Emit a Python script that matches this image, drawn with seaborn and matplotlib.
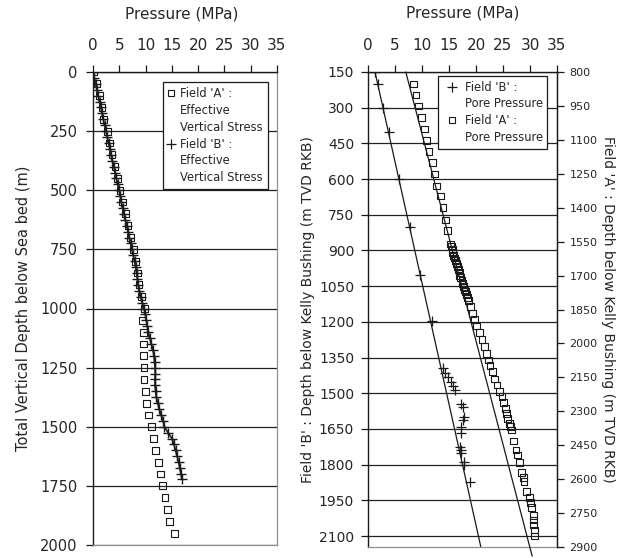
import matplotlib
matplotlib.use('Agg')
import matplotlib.pyplot as plt
from matplotlib.lines import Line2D
import seaborn as sns

# ---- left panel: effective vertical stress (depth below sea bed, m / MPa)
a_eff_depth = [0, 50, 100, 150, 200, 250, 300, 350, 400, 450, 500, 550, 600, 650,
               700, 750, 800, 850, 900, 950, 1000, 1050, 1100, 1150, 1200, 1250,
               1300, 1350, 1400, 1450, 1500, 1550, 1600, 1650, 1700, 1750, 1800,
               1850, 1900, 1950]
a_eff_mpa = [0.2, 0.75, 1.25, 1.7, 2.05, 2.7, 3.15, 3.6, 4.2, 4.7, 5.15, 5.6, 6.2, 6.65,
             7.1, 7.65, 8.15, 8.4, 8.75, 9.2, 9.75, 9.4, 9.55, 9.55, 9.55, 9.7,
             9.7, 10.0, 10.25, 10.6, 11.1, 11.45, 11.85, 12.5, 12.85, 13.25, 13.7,
             14.15, 14.6, 15.5]

b_eff_depth = [0, 25, 50, 75, 100, 125, 150, 175, 200, 225, 250, 275, 300, 325, 350,
               375, 400, 425, 450, 475, 500, 525, 550, 575, 600, 625, 650, 675, 700,
               725, 750, 775, 800, 825, 850, 875, 900, 925, 950, 975, 1000, 1025,
               1050, 1075, 1100, 1125, 1150, 1175, 1200, 1225, 1250, 1275, 1300,
               1325, 1350, 1375, 1400, 1425, 1450, 1475, 1500, 1525, 1550, 1575,
               1600, 1625, 1650, 1675, 1700, 1720]
b_eff_mpa = [0.0, 0.25, 0.5, 0.75, 1.0, 1.25, 1.5, 1.7, 1.95, 2.2, 2.45, 2.7, 2.95, 3.2,
             3.45, 3.7, 3.95, 4.2, 4.45, 4.7, 4.95, 5.2, 5.4, 5.65, 5.9, 6.15, 6.4,
             6.65, 6.9, 7.15, 7.4, 7.65, 7.9, 8.1, 8.3, 8.45, 8.6, 8.8, 9.05, 9.35,
             9.7, 9.95, 10.15, 10.35, 10.5, 10.8, 11.1, 11.4, 11.6, 11.7, 11.8,
             11.85, 11.8, 11.8, 11.9, 12.05, 12.3, 12.6, 12.95, 13.35, 13.6, 14.3,
             15.0, 15.4, 15.7, 16.0, 16.3, 16.5, 16.75, 16.9]

# ---- right panel: pore pressure (depth below Kelly Bushing, m TVD RKB / MPa)
b_pp_depth = [150, 202, 300, 403, 600, 803, 1003, 1195, 1395, 1414, 1431, 1452, 1470,
              1487, 1543, 1557, 1599, 1613, 1641, 1669, 1725, 1739, 1753, 1788, 1801,
              1872]
b_pp_mpa = [1.3, 1.8, 2.7, 3.8, 5.8, 7.8, 9.6, 11.9, 13.8, 14.3, 14.8, 15.3, 15.8,
            16.2, 17.3, 17.5, 17.7, 17.6, 17.3, 17.2, 17.0, 17.2, 17.3, 17.7, 17.8,
            18.8]

a_pp_depth = [853, 902, 950, 1002, 1052, 1104, 1152, 1201, 1251, 1304, 1348, 1398,
              1454, 1502, 1560, 1572, 1585, 1598, 1610, 1622, 1635, 1648, 1660, 1672,
              1685, 1698, 1710, 1722, 1735, 1748, 1760, 1772, 1785, 1798, 1810, 1837,
              1867, 1893, 1923, 1952, 1982, 2014, 2044, 2073, 2098, 2125, 2157, 2184,
              2213, 2236, 2262, 2287, 2309, 2331, 2353, 2368, 2383, 2431, 2471, 2493,
              2527, 2571, 2592, 2611, 2656, 2680, 2704, 2725, 2759, 2781, 2803, 2825,
              2851]
a_pp_mpa = [8.4, 8.9, 9.3, 9.9, 10.4, 10.9, 11.3, 11.9, 12.3, 12.7, 13.5, 13.9,
            14.3, 14.7, 15.3, 15.4, 15.6, 15.7, 15.9, 16.0, 16.2, 16.4, 16.5, 16.7,
            16.9, 17.0, 17.2, 17.4, 17.5, 17.7, 17.9, 18.0, 18.2, 18.4, 18.6, 19.0,
            19.4, 19.7, 20.1, 20.6, 21.1, 21.5, 21.9, 22.3, 22.6, 23.1, 23.5, 23.9,
            24.3, 24.8, 25.1, 25.4, 25.6, 25.9, 26.2, 26.4, 26.5, 26.9, 27.4, 27.7,
            28.0, 28.5, 28.8, 28.9, 29.4, 29.9, 30.1, 30.3, 30.6, 30.7, 30.7, 30.8,
            30.9]

# hydrostatic trend lines
b_hyd_depth = [150, 2146]
b_hyd_mpa = [1.3, 20.9]
a_hyd_depth = [800, 2940]
a_hyd_mpa = [7.0, 30.4]

x_ticks = [0, 5, 10, 15, 20, 25, 30, 35]

sns.set_theme(style='white')
plt.rcParams['font.family'] = ['DejaVu Sans']

W, H = 629, 558
fig = plt.figure(figsize=(W / 100, H / 100), dpi=100)
ax1 = fig.add_axes([93 / W, 1 - 545 / H, 184 / W, 473 / H])
ax2 = fig.add_axes([368 / W, 1 - 547 / H, 189 / W, 475 / H])
ax3 = ax2.twinx()

# left panel
sns.lineplot(x=b_eff_mpa, y=b_eff_depth, sort=False, estimator=None, color='k',
             lw=1.2, marker='+', markersize=7, mew=1.0, mec='k', mfc='k', ax=ax1,
             zorder=4)
sns.scatterplot(x=a_eff_mpa, y=a_eff_depth, marker='s', s=24, facecolors='none',
                edgecolors='k', linewidths=0.8, ax=ax1, zorder=3)

# right panel
sns.lineplot(x=b_hyd_mpa, y=b_hyd_depth, sort=False, estimator=None, color='k',
             lw=0.9, ax=ax2)
sns.scatterplot(x=b_pp_mpa, y=b_pp_depth, marker='+', s=55, color='k',
                linewidths=0.9, ax=ax2)
sns.lineplot(x=a_hyd_mpa, y=a_hyd_depth, sort=False, estimator=None, color='k',
             lw=0.9, ax=ax3, clip_on=False)
sns.scatterplot(x=a_pp_mpa, y=a_pp_depth, marker='s', s=24, facecolors='none',
                edgecolors='k', linewidths=0.8, ax=ax3)


def style_top(ax):
    ax.set_xlim(0, 35)
    ax.set_xticks(x_ticks)
    ax.xaxis.set_ticks_position('top')
    ax.tick_params(axis='x', top=True, bottom=False, direction='out', length=5,
                   width=0.9, color='k', pad=9, labelsize=11)
    ax.set_xlabel('Pressure (MPa)', fontsize=11)
    ax.xaxis.set_label_position('top')
    for s in ['top', 'left']:
        ax.spines[s].set_color('k')
        ax.spines[s].set_linewidth(1.0)
    for s in ['right', 'bottom']:
        ax.spines[s].set_color('#909090')
        ax.spines[s].set_linewidth(0.9)


style_top(ax1)
ax1.set_ylim(2000, 0)
ax1.set_yticks([0, 250, 500, 750, 1000, 1250, 1500, 1750, 2000])
ax1.tick_params(axis='y', left=True, direction='out', length=5, width=0.9,
                color='k', pad=6, labelsize=10.5)
ax1.yaxis.grid(True, color='#222222', lw=0.9)
ax1.set_axisbelow(True)
ax1.set_ylabel('Total Vertical Depth below Sea bed (m)', fontsize=10.5, va='center')
ax1.yaxis.set_label_coords(-0.38, 0.5)
ax1.xaxis.set_label_coords(0.48, 1.114)

style_top(ax2)
ax2.set_ylim(2146, 150)
ax2.set_yticks(list(range(150, 2101, 150)))
ax2.tick_params(axis='y', left=True, direction='out', length=5, width=0.9,
                color='k', pad=5, labelsize=10)
ax2.yaxis.grid(True, color='#222222', lw=0.9)
ax2.set_axisbelow(True)
ax2.set_ylabel("Field 'B' : Depth below Kelly Bushing (m TVD RKB)", fontsize=10,
               va='center')
ax2.yaxis.set_label_coords(-0.317, 0.5)
ax2.xaxis.set_label_coords(0.5, 1.114)

ax3.set_ylim(2900, 800)
ax3.set_yticks(list(range(800, 2901, 150)))
ax3.tick_params(axis='y', right=True, direction='out', length=5, width=0.9,
                color='k', pad=4, labelsize=8)
ax3.spines['right'].set_color('k')
ax3.spines['right'].set_linewidth(1.0)
for s in ['top', 'left', 'bottom']:
    ax3.spines[s].set_visible(False)
ax3.set_ylabel("Field 'A' : Depth below Kelly Bushing (m TVD RKB)", fontsize=10,
               rotation=270, va='center')
ax3.yaxis.set_label_coords(1.27, 0.5)

# legends
sq = Line2D([], [], ls='none', marker='s', ms=5, mfc='none', mec='k', mew=0.8)
pl = Line2D([], [], ls='none', marker='+', ms=7, mec='k', mew=0.9)
blank = Line2D([], [], ls='none')

leg1 = fig.legend([sq, blank, blank, pl, blank, blank],
                  ["Field 'A' :", 'Effective', 'Vertical Stress',
                   "Field 'B' :", 'Effective', 'Vertical Stress'],
                  loc='upper left', bbox_to_anchor=(163 / W, 1 - 82 / H),
                  bbox_transform=fig.transFigure, borderaxespad=0, fontsize=8.3,
                  frameon=True, fancybox=False, edgecolor='k', framealpha=1,
                  handlelength=0.5, handletextpad=0.5, labelspacing=0.33,
                  borderpad=0.45)
leg1.get_frame().set_linewidth(0.9)

leg2 = fig.legend([pl, blank, sq, blank],
                  ["Field 'B' :", 'Pore Pressure', "Field 'A' :", 'Pore Pressure'],
                  loc='upper left', bbox_to_anchor=(438 / W, 1 - 76 / H),
                  bbox_transform=fig.transFigure, borderaxespad=0, fontsize=8.3,
                  frameon=True, fancybox=False, edgecolor='k', framealpha=1,
                  handlelength=1.6, handletextpad=0.3, labelspacing=0.33,
                  borderpad=0.4)
leg2.get_frame().set_linewidth(0.9)

fig.savefig('out.png', dpi=100, facecolor='white')
